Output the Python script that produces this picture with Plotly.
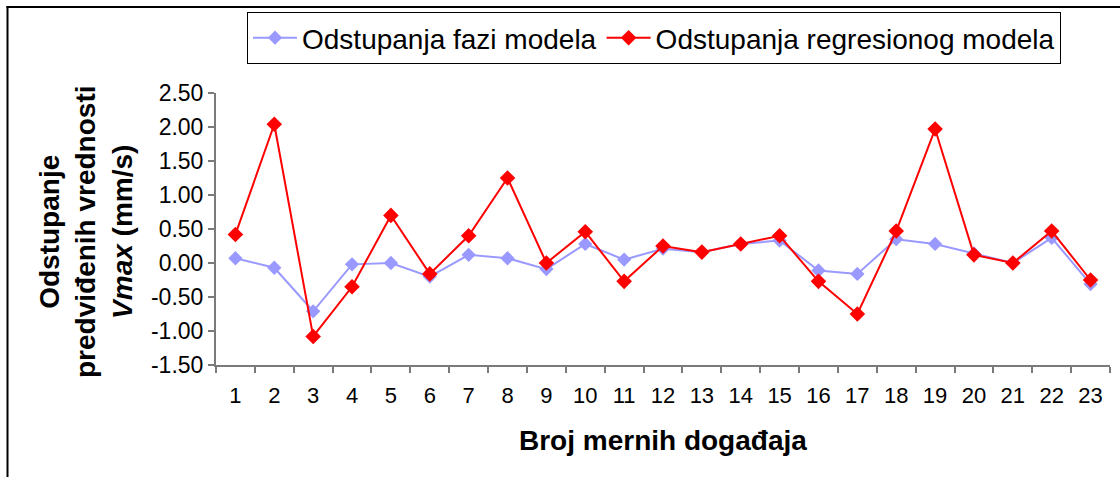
import plotly.graph_objects as go

# Event numbers and prediction deviations (mm/s)
events = [str(i) for i in range(1, 24)]
fuzzy_dev = [0.07, -0.07, -0.71, -0.02, 0.00, -0.20, 0.12, 0.07, -0.09, 0.28, 0.05, 0.21,
             0.16, 0.28, 0.33, -0.11, -0.16, 0.35, 0.28, 0.14, 0.00, 0.37, -0.31]
regression_dev = [0.42, 2.04, -1.08, -0.35, 0.70, -0.16, 0.40, 1.25, 0.00, 0.46, -0.27, 0.25,
                  0.16, 0.28, 0.40, -0.27, -0.75, 0.47, 1.97, 0.12, 0.00, 0.47, -0.25]
y_ticks = [-1.5, -1.0, -0.5, 0.0, 0.5, 1.0, 1.5, 2.0, 2.5]
y_tick_labels = [f"{v:.2f}" for v in y_ticks]

FONT = "Liberation Sans, Arial, sans-serif"
W, H = 1120, 477
L, R, T, B = 216, 10, 93, 112
PW, PH = W - L - R, H - T - B


def px_x(x):
    return (x - L) / PW


def px_y(y):
    return (H - B - y) / PH


fig = go.Figure()
fig.add_trace(go.Scatter(
    x=events, y=fuzzy_dev, mode="lines+markers", name="Odstupanja fazi modela",
    line=dict(color="#9999ff", width=2),
    marker=dict(symbol="diamond", size=11, color="#9999ff"),
))
fig.add_trace(go.Scatter(
    x=events, y=regression_dev, mode="lines+markers", name="Odstupanja regresionog modela",
    line=dict(color="#ff0000", width=2),
    marker=dict(symbol="diamond", size=12, color="#ff0000"),
))

axis_grey = "#7a7a7a"
fig.update_xaxes(
    type="category", range=[-0.5, len(events) - 0.5], tickson="boundaries",
    ticks="outside", ticklen=6, tickwidth=1.5,
    tickcolor=axis_grey, showline=True, linecolor=axis_grey, linewidth=2,
    showgrid=False, zeroline=False, tickfont=dict(family=FONT, size=22, color="black"),
    ticklabelstandoff=10,
)
fig.update_yaxes(
    range=[-1.5, 2.5], tickvals=y_ticks, ticktext=y_tick_labels, ticks="outside", ticklen=6,
    tickwidth=1.5, tickcolor=axis_grey, showline=True, linecolor=axis_grey, linewidth=2,
    showgrid=False, zeroline=False, tickfont=dict(family=FONT, size=23, color="black"),
)

fig.update_layout(
    width=W, height=H, margin=dict(l=L, r=R, t=T, b=B),
    paper_bgcolor="white", plot_bgcolor="white",
    font=dict(family=FONT, color="black"),
    legend=dict(
        orientation="h", x=px_x(247), y=px_y(12), xanchor="left", yanchor="top",
        bordercolor="black", borderwidth=1, bgcolor="white", itemwidth=44,
        font=dict(family=FONT, size=28, color="black"),
    ),
    annotations=[
        dict(text="<b>Odstupanje<br>predviđenih vrednosti<br><i>Vmax</i> (mm/s)</b>",
             xref="paper", yref="paper", x=px_x(86), y=px_y(232), textangle=-90,
             xanchor="center", yanchor="middle", showarrow=False,
             font=dict(family=FONT, size=28, color="black")),
        dict(text="<b>Broj mernih događaja</b>", xref="paper", yref="paper",
             x=px_x(663), y=px_y(440), xanchor="center", yanchor="middle",
             showarrow=False, font=dict(family=FONT, size=28, color="black")),
    ],
    shapes=[
        dict(type="line", xref="paper", yref="paper", x0=px_x(7.5), x1=px_x(7.5),
             y0=px_y(480), y1=px_y(6), line=dict(color="black", width=2)),
        dict(type="line", xref="paper", yref="paper", x0=px_x(6.5), x1=px_x(1125),
             y0=px_y(7), y1=px_y(7), line=dict(color="black", width=2)),
    ],
    showlegend=True,
)

fig.write_html("out.html")
